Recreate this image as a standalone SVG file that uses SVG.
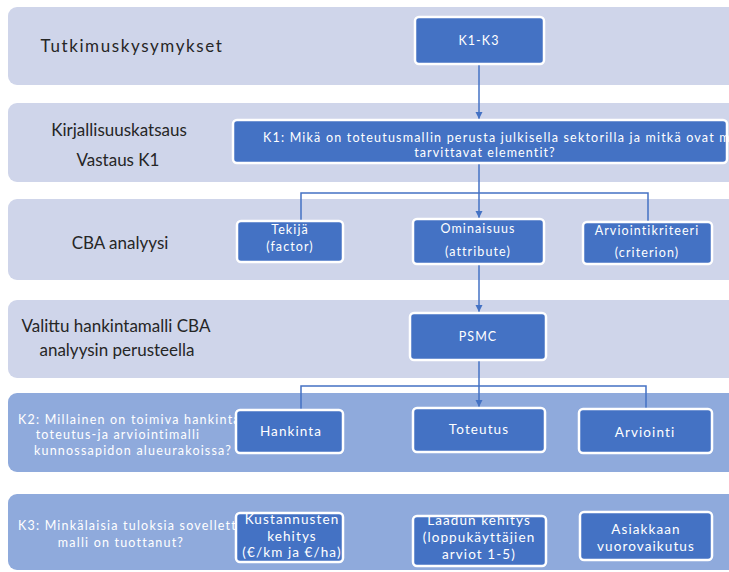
<svg xmlns="http://www.w3.org/2000/svg" width="729" height="572" viewBox="0 0 729 572">
  <style>
    .band-light { fill: #CFD5EA; }
    .band-dark { fill: #8FAADC; }
    .node { fill: #4472C4; stroke: #FFFFFF; stroke-width: 2.5; }
    .lbl { font-family: Lato, "Liberation Sans", sans-serif; fill: #262626; font-size: 17px; text-anchor: middle; }
    .lbl-w { font-family: Lato, "Liberation Sans", sans-serif; fill: #FFFFFF; font-size: 12.5px; letter-spacing: 1.2px; }
    .nt { font-family: Lato, "Liberation Sans", sans-serif; fill: #FFFFFF; font-size: 12.5px; letter-spacing: 1.1px; text-anchor: middle; }
    .nt-l { font-size: 13.5px; letter-spacing: 1.1px; }
    .conn { fill: none; stroke: #4472C4; stroke-width: 1.5; }
  </style>
  <defs>
    <marker id="arrow" viewBox="0 0 10 10" refX="10" refY="5" markerWidth="5" markerHeight="5" orient="auto">
      <path d="M0,0 L10,5 L0,10 z" fill="#4472C4"/>
    </marker>
  </defs>

  <rect width="729" height="572" fill="#FFFFFF"/>

  <!-- horizontal bands -->
  <g id="bands">
    <rect class="band-light" x="8" y="7" width="740" height="78" rx="9"/>
    <rect class="band-light" x="8" y="103" width="740" height="79" rx="9"/>
    <rect class="band-light" x="8" y="199" width="740" height="81" rx="9"/>
    <rect class="band-light" x="8" y="300" width="740" height="78" rx="9"/>
    <rect class="band-dark" x="8" y="393" width="740" height="79" rx="9"/>
    <rect class="band-dark" x="8" y="494" width="740" height="76" rx="9"/>
  </g>

  <!-- band headings -->
  <g id="band-labels">
    <text class="lbl" x="132" y="52" font-size="19" letter-spacing="1.6">Tutkimuskysymykset</text>
    <text class="lbl" x="119" y="136">Kirjallisuuskatsaus</text>
    <text class="lbl" x="118" y="166">Vastaus K1</text>
    <text class="lbl" x="120" y="249">CBA analyysi</text>
    <text class="lbl" x="116" y="332">Valittu hankintamalli CBA</text>
    <text class="lbl" x="117" y="356">analyysin perusteella</text>
    <text class="lbl-w" x="18" y="424" letter-spacing="1.15">K2: Millainen on toimiva hankinta</text>
    <text class="lbl-w" x="118" y="439" text-anchor="middle" letter-spacing="1.1">toteutus-ja arviointimalli</text>
    <text class="lbl-w" x="133" y="455" text-anchor="middle" letter-spacing="2">kunnossapidon alueurakoissa?</text>
    <text class="lbl-w" x="18" y="530">K3: Minkälaisia tuloksia sovellettu</text>
    <text class="lbl-w" x="121" y="547" text-anchor="middle">malli on tuottanut?</text>
  </g>

  <!-- connectors -->
  <g id="connectors">
    <path class="conn" d="M479,64 V119" marker-end="url(#arrow)"/>
    <path class="conn" d="M479,163 V218" marker-end="url(#arrow)"/>
    <path class="conn" d="M301,222 V193 H648 V222"/>
    <path class="conn" d="M479,264 V312" marker-end="url(#arrow)"/>
    <path class="conn" d="M479,360 V407" marker-end="url(#arrow)"/>
    <path class="conn" d="M301,410 V386 H646 V409"/>
  </g>

  <g id="k1k3">
    <rect class="node" x="415" y="17" width="129" height="47" rx="4"/>
    <text class="nt" x="479" y="45" font-size="11" letter-spacing="0.8">K1-K3</text>
  </g>

  <g id="k1">
    <rect class="node" x="233" y="120" width="494" height="43" rx="4"/>
    <text class="lbl-w" x="263" y="142">K1: Mikä on toteutusmallin perusta julkisella sektorilla ja mitkä ovat mallin</text>
    <text class="nt" x="485" y="157" letter-spacing="2.2">tarvittavat elementit?</text>
  </g>

  <g id="tekija">
    <rect class="node" x="237" y="221" width="106" height="41" rx="4"/>
    <text class="nt" x="290" y="234">Tekijä</text>
    <text class="nt" x="290" y="251">(factor)</text>
  </g>

  <g id="ominaisuus">
    <rect class="node" x="413" y="219" width="131" height="45" rx="4"/>
    <text class="nt" x="478" y="233">Ominaisuus</text>
    <text class="nt" x="478" y="256">(attribute)</text>
  </g>

  <g id="arviointikriteeri">
    <rect class="node" x="583" y="222" width="129" height="42" rx="4"/>
    <text class="nt" x="647" y="235">Arviointikriteeri</text>
    <text class="nt" x="647" y="257">(criterion)</text>
  </g>

  <g id="psmc">
    <rect class="node" x="410" y="313" width="136" height="47" rx="4"/>
    <text class="nt" x="478" y="341" font-size="11" letter-spacing="0.8">PSMC</text>
  </g>

  <g id="hankinta">
    <rect class="node" x="236" y="410" width="107" height="43" rx="4"/>
    <text class="nt nt-l" x="291" y="436">Hankinta</text>
  </g>

  <g id="toteutus">
    <rect class="node" x="413" y="408" width="132" height="44" rx="4"/>
    <text class="nt nt-l" x="479" y="434">Toteutus</text>
  </g>

  <g id="arviointi">
    <rect class="node" x="579" y="409" width="133" height="44" rx="4"/>
    <text class="nt nt-l" x="645" y="437">Arviointi</text>
  </g>

  <g id="kustannukset">
    <rect class="node" x="236" y="513" width="107" height="49" rx="4"/>
    <text class="nt nt-l" x="292" y="524">Kustannusten</text>
    <text class="nt nt-l" x="292" y="541">kehitys</text>
    <text class="nt nt-l" x="292" y="557">(€/km ja €/ha)</text>
  </g>

  <g id="laatu">
    <rect class="node" x="413" y="516" width="133" height="50" rx="4"/>
    <text class="nt nt-l" x="479" y="525">Laadun kehitys</text>
    <text class="nt nt-l" x="479" y="542">(loppukäyttäjien</text>
    <text class="nt nt-l" x="479" y="559">arviot 1-5)</text>
  </g>

  <g id="asiakas">
    <rect class="node" x="580" y="512" width="132" height="48" rx="4"/>
    <text class="nt nt-l" x="646" y="534">Asiakkaan</text>
    <text class="nt nt-l" x="646" y="551">vuorovaikutus</text>
  </g>
</svg>
